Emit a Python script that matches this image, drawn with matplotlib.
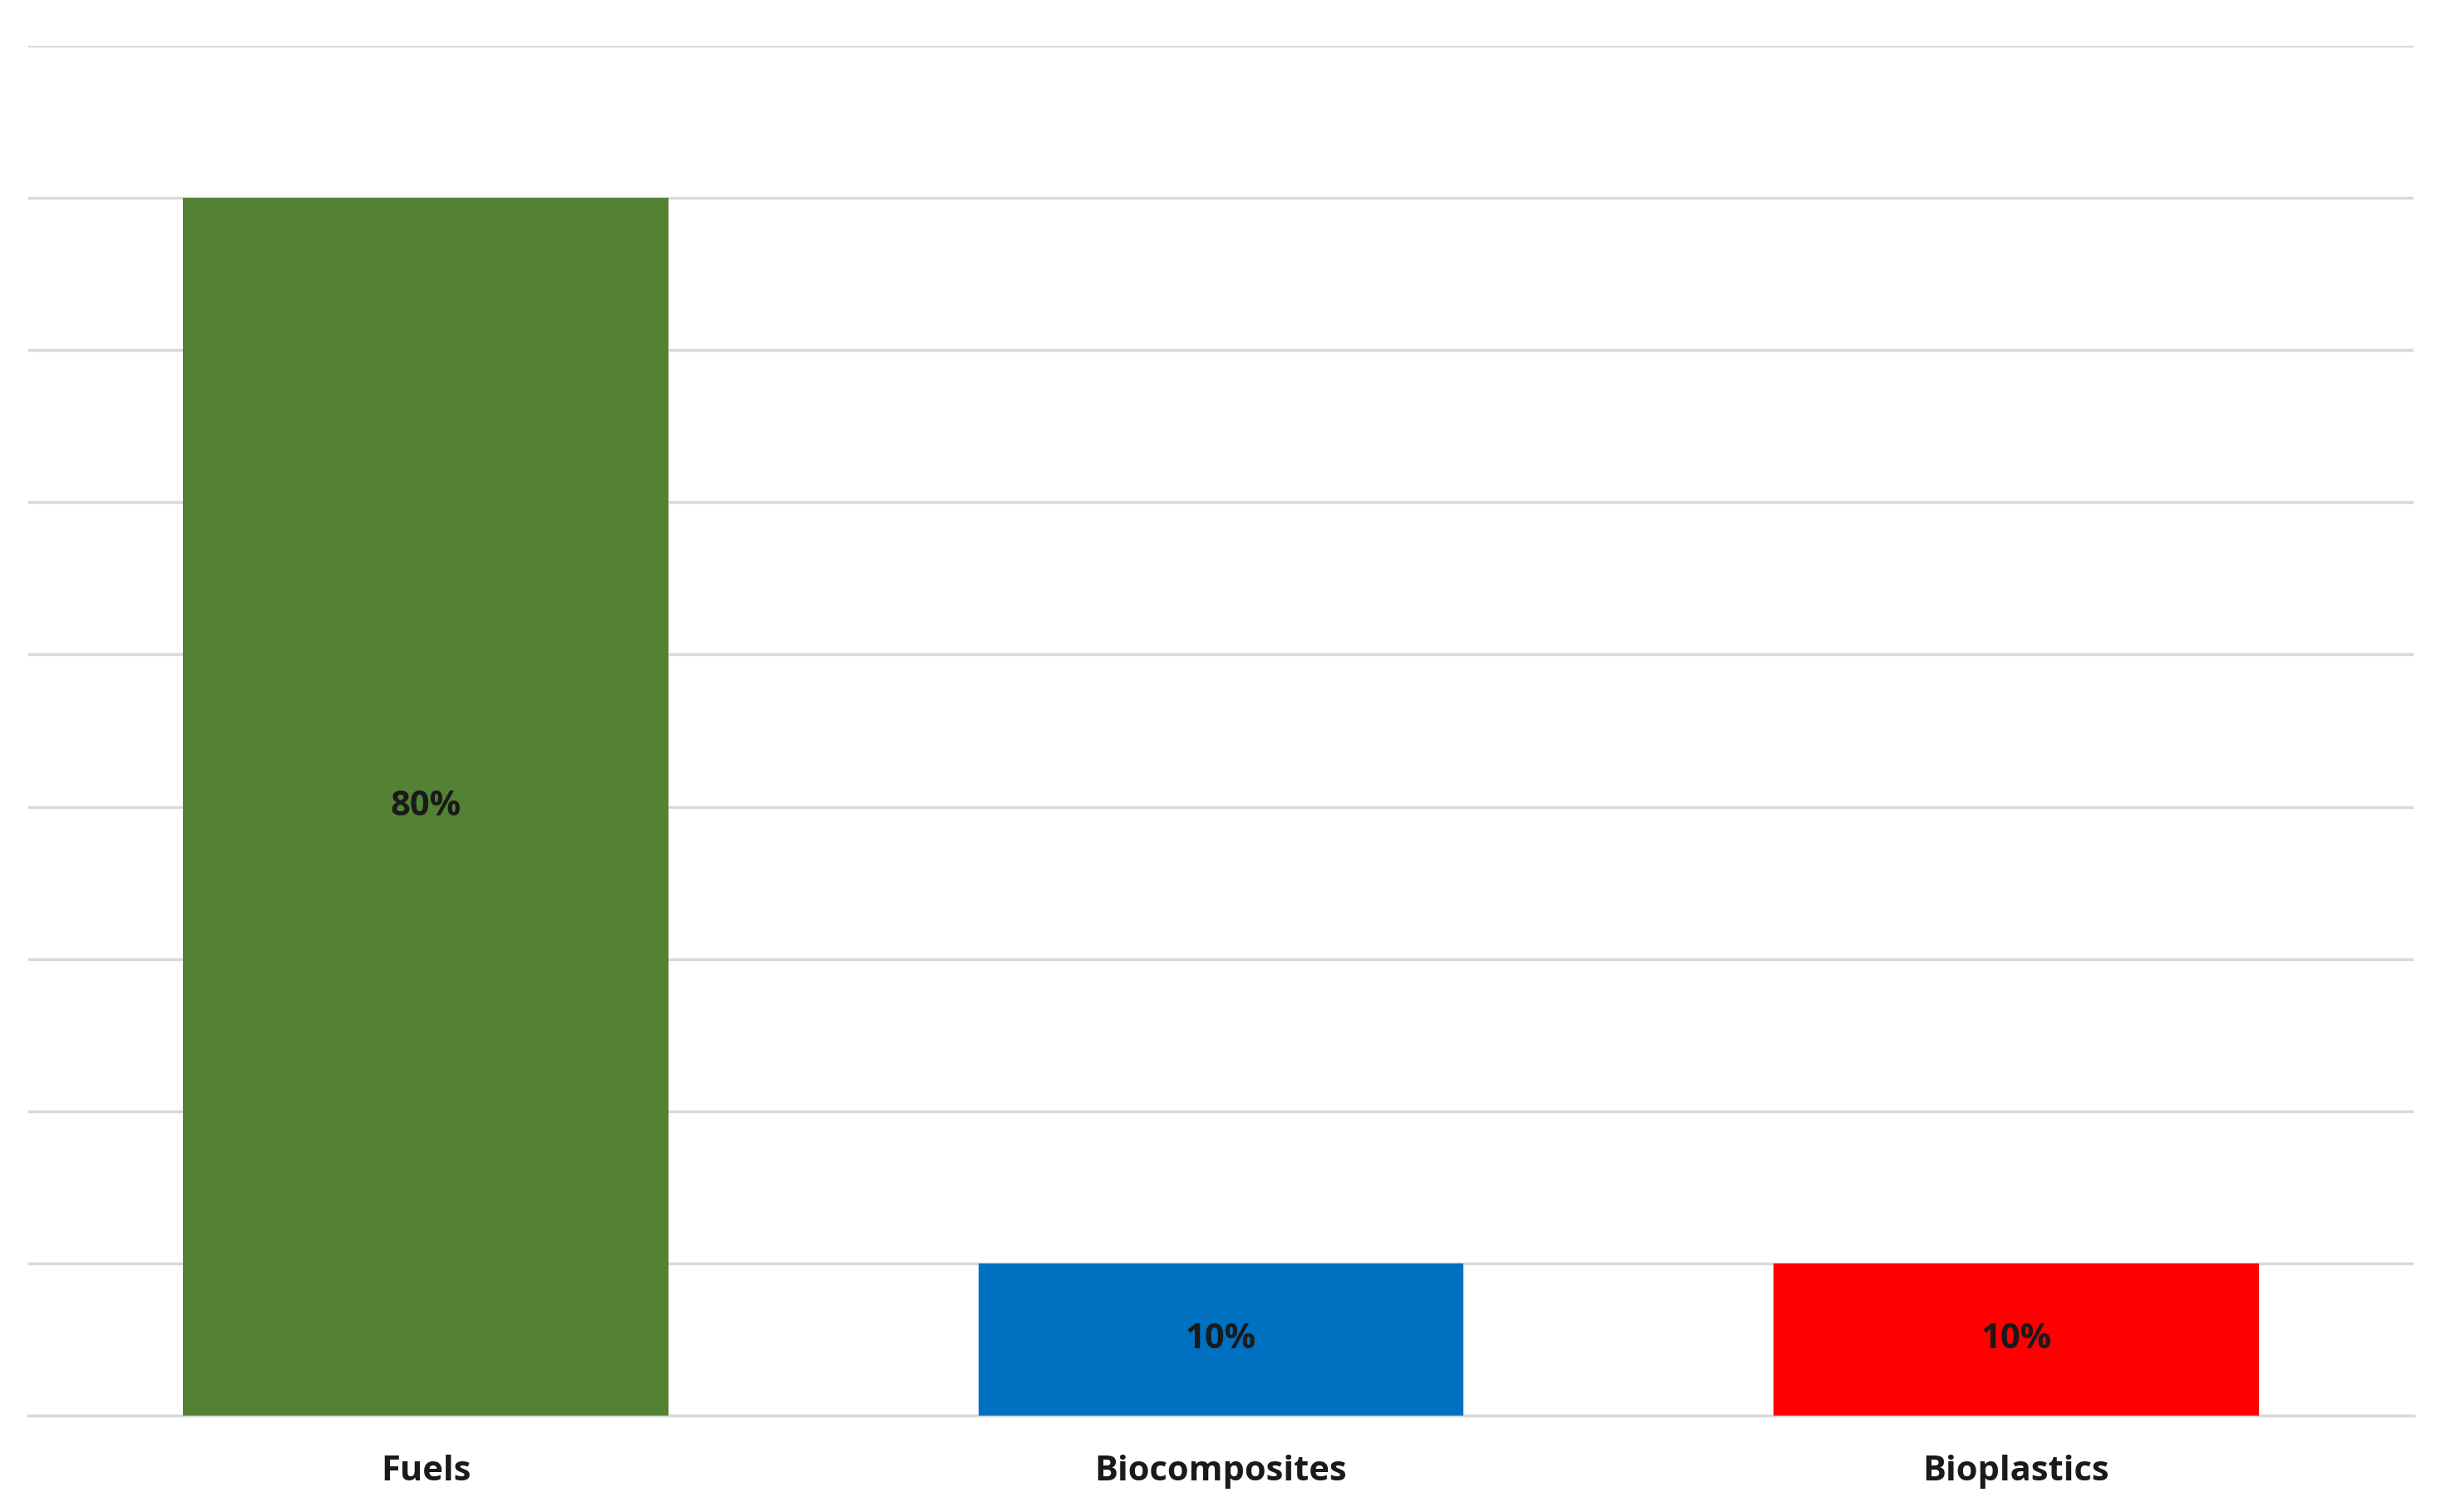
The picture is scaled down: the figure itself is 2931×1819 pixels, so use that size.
import matplotlib.pyplot as plt

categories = ["Fuels", "Biocomposites", "Bioplastics"]
values = [80, 10, 10]
labels = ["80%", "10%", "10%"]
colors = ["#548235", "#0070C0", "#FF0000"]

plt.rcParams["font.family"] = ["Open Sans", "DejaVu Sans"]

fig = plt.figure(figsize=(29.31, 18.19), dpi=100)
ax = fig.add_axes([34 / 2931, 1 - 1703 / 1819, (2903 - 34) / 2931, (1703 - 55) / 1819])

x = range(len(categories))
bars = ax.bar(x, values, width=0.61, color=colors, zorder=3)
for b, lab in zip(bars, labels):
    ax.text(b.get_x() + b.get_width() / 2, b.get_height() / 2, lab,
            ha="center", va="center", fontsize=30, fontweight="bold", color="#1a1a1a", zorder=4)

ax.set_xlim(-0.5, 2.5)
ax.set_ylim(0, 90)
ax.set_yticks(range(0, 91, 10))
ax.yaxis.grid(True, color="#d9d9d9", linewidth=2.5, zorder=0)
ax.tick_params(axis="y", left=False, labelleft=False)
ax.tick_params(axis="x", bottom=False, pad=30)
ax.set_xticks(list(x))
ax.set_xticklabels(categories, fontsize=30, fontweight="bold", color="#1a1a1a")
for s in ["top", "right", "left"]:
    ax.spines[s].set_visible(False)
ax.spines["bottom"].set_color("#d9d9d9")
ax.spines["bottom"].set_linewidth(2.5)

fig.savefig("out.png", dpi=100, facecolor="white")
